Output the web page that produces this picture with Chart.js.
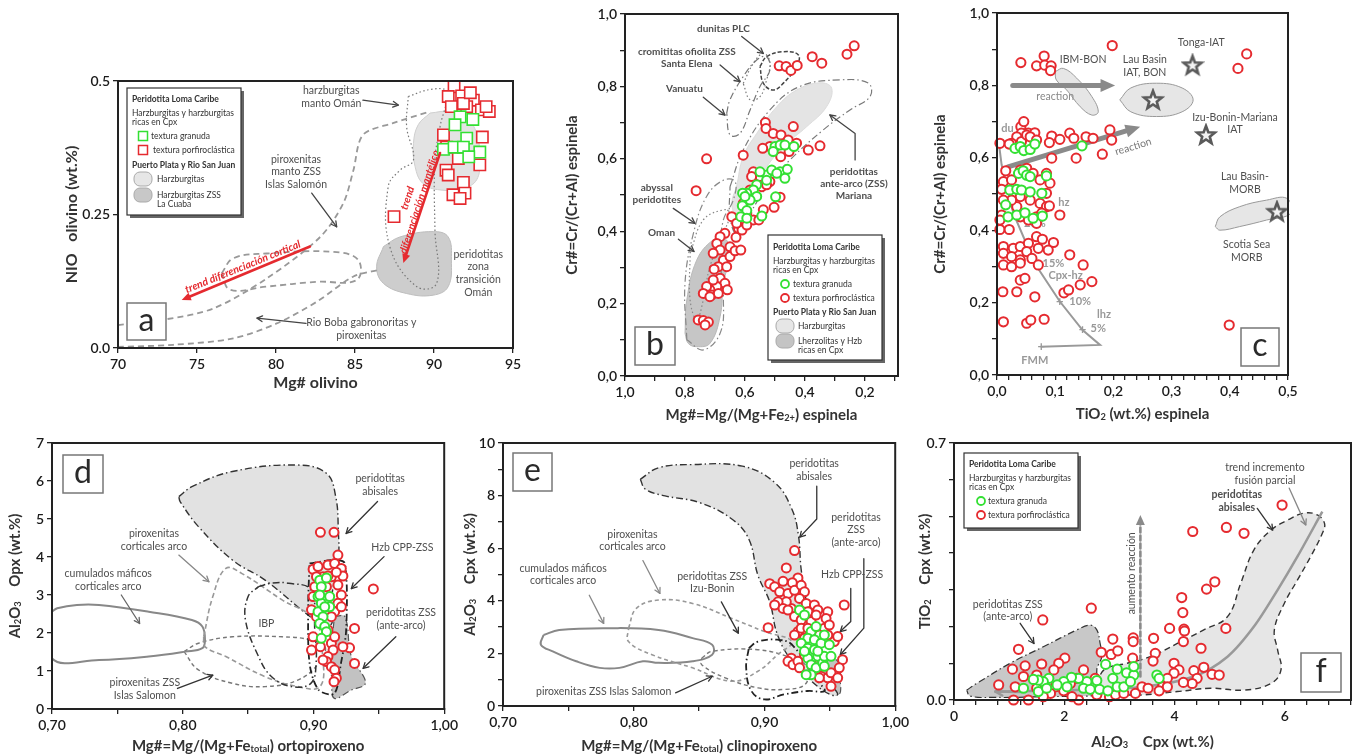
<!DOCTYPE html>
<html>
<head>
<meta charset="utf-8">
<title>Peridotita Loma Caribe</title>
<script src="https://cdn.jsdelivr.net/npm/chart.js@4.4.1/dist/chart.umd.min.js"></script>
<style>
html,body{margin:0;padding:0;background:#fff;}
body{width:1360px;height:754px;position:relative;overflow:hidden;}
.box{position:absolute;}
</style>
</head>
<body>
<script>
var RED = '#e52a2f', GREEN = '#33e033', GREY = '#4f4f4f';
var FONT = 'Lato, "Open Sans", sans-serif';
var DASHDOT = [7, 3, 1.5, 3], DASH = [6, 4], DOT = [1.5, 2.5];

// ---- a: NiO olivino vs Mg# olivino
var aRed = [[91.27,0.489],[90.9,0.471],[91.75,0.472],[92.49,0.464],[92.07,0.452],[93.0,0.446],[93.5,0.443],[91.1,0.452],[91.86,0.458],[90.6,0.399],[93.06,0.395],[90.8,0.376],[91.54,0.355],[90.76,0.333],[92.9,0.343],[91.86,0.31],[91.2,0.287],[91.96,0.29],[91.65,0.28],[90.9,0.324],[87.47,0.246],[92.3,0.478],[93.3,0.452]];
var aGreen = [[91.65,0.433],[92.46,0.428],[91.33,0.418],[92.07,0.393],[90.6,0.372],[91.27,0.376],[91.86,0.376],[92.9,0.367],[92.2,0.358]];
var aHarz = [[89.75,0.44],[91.0,0.443],[92.07,0.43],[92.7,0.402],[92.9,0.352],[92.7,0.315],[91.86,0.299],[90.38,0.296],[89.3,0.308],[88.8,0.34],[88.7,0.383],[89.0,0.418]];
var aTrans = [[86.8,0.19],[87.85,0.208],[89.96,0.218],[90.9,0.208],[91.1,0.165],[90.9,0.115],[89.96,0.099],[88.27,0.102],[86.8,0.121],[86.37,0.152]];
var aOman = [[88.37,0.471],[89.75,0.484],[90.8,0.48],[90.38,0.414],[90.06,0.352],[90.06,0.221],[90.17,0.121],[88.9,0.115],[87.2,0.19],[87.1,0.302],[87.85,0.333],[88.7,0.352],[88.27,0.414]];
var aPirUp = [[70.0,0.043],[73.08,0.054],[76.03,0.074],[79.4,0.13],[82.8,0.208],[84.26,0.271],[84.9,0.333],[85.5,0.399],[87.4,0.421],[89.75,0.443]];
var aPirLow = [[70.0,0.002],[73.5,0.006],[77.3,0.018],[80.04,0.046],[82.6,0.087],[84.9,0.134],[86.6,0.147]];
var aBoba = [[76.56,0.14],[77.3,0.168],[79.4,0.177],[83.6,0.18],[85.2,0.165],[85.1,0.127],[82.6,0.124],[79.4,0.115],[77.1,0.109]];

// ---- b: Cr# vs Mg# espinela
var bRed = [[0.486,0.857],[0.463,0.855],[0.447,0.844],[0.426,0.858],[0.376,0.882],[0.344,0.864],[0.26,0.889],[0.236,0.912],[0.728,0.6],[0.763,0.512],[0.606,0.61],[0.532,0.7],[0.53,0.684],[0.506,0.67],[0.48,0.666],[0.439,0.689],[0.456,0.652],[0.428,0.643],[0.453,0.62],[0.481,0.606],[0.517,0.634],[0.541,0.629],[0.389,0.624],[0.35,0.636],[0.572,0.564],[0.55,0.551],[0.517,0.537],[0.483,0.494],[0.503,0.466],[0.583,0.514],[0.606,0.477],[0.594,0.45],[0.572,0.431],[0.554,0.431],[0.539,0.459],[0.644,0.44],[0.622,0.408],[0.63,0.383],[0.65,0.357],[0.667,0.394],[0.683,0.385],[0.694,0.366],[0.683,0.348],[0.672,0.32],[0.65,0.33],[0.633,0.346],[0.614,0.348],[0.706,0.339],[0.689,0.302],[0.661,0.302],[0.703,0.295],[0.683,0.27],[0.667,0.256],[0.694,0.247],[0.717,0.238],[0.711,0.224],[0.689,0.228],[0.659,0.238],[0.706,0.265],[0.728,0.247],[0.739,0.228],[0.717,0.219],[0.756,0.155],[0.739,0.153],[0.722,0.149],[0.733,0.141],[0.578,0.551],[0.544,0.523],[0.528,0.528],[0.61,0.403],[0.594,0.417],[0.628,0.422]];
var bGreen = [[0.5,0.634],[0.483,0.638],[0.467,0.638],[0.437,0.634],[0.506,0.62],[0.528,0.555],[0.55,0.564],[0.511,0.569],[0.483,0.564],[0.459,0.571],[0.494,0.56],[0.467,0.546],[0.528,0.541],[0.561,0.528],[0.572,0.514],[0.594,0.505],[0.608,0.505],[0.561,0.496],[0.583,0.486],[0.609,0.47],[0.594,0.457],[0.614,0.44],[0.594,0.436],[0.544,0.442],[0.498,0.495],[0.6,0.496]];
var bHarz = [[0.628,0.523],[0.606,0.606],[0.561,0.67],[0.494,0.744],[0.428,0.79],[0.35,0.81],[0.311,0.795],[0.328,0.744],[0.394,0.689],[0.472,0.634],[0.528,0.578],[0.572,0.523],[0.606,0.468],[0.628,0.44],[0.644,0.477]];
var bLherz = [[0.8,0.118],[0.794,0.21],[0.761,0.32],[0.706,0.376],[0.667,0.38],[0.65,0.339],[0.672,0.256],[0.683,0.164],[0.717,0.09],[0.761,0.081],[0.789,0.09]];
var bMariana = [[0.65,0.523],[0.606,0.624],[0.517,0.735],[0.417,0.8],[0.283,0.818],[0.189,0.809],[0.183,0.772],[0.25,0.735],[0.339,0.68],[0.45,0.597],[0.528,0.523],[0.583,0.45],[0.628,0.394],[0.65,0.44]];
var bAbyssal = [[0.794,0.1],[0.8,0.256],[0.772,0.394],[0.728,0.496],[0.672,0.541],[0.633,0.537],[0.639,0.486],[0.672,0.431],[0.683,0.339],[0.672,0.21],[0.683,0.118],[0.739,0.072]];
var bOman = [[0.783,0.339],[0.739,0.431],[0.672,0.459],[0.65,0.45],[0.672,0.394],[0.717,0.302],[0.739,0.21],[0.761,0.155],[0.783,0.21]];
var bVanuatu = [[0.661,0.726],[0.65,0.763],[0.606,0.827],[0.561,0.873],[0.528,0.882],[0.517,0.845],[0.55,0.8],[0.583,0.735],[0.617,0.67],[0.65,0.666]];
var bCromit = [[0.606,0.808],[0.572,0.864],[0.539,0.891],[0.517,0.868],[0.528,0.818],[0.55,0.772],[0.583,0.763]];
var bDunitas = [[0.55,0.855],[0.528,0.882],[0.472,0.896],[0.422,0.887],[0.428,0.855],[0.472,0.809],[0.506,0.79],[0.539,0.809]];

// ---- c: Cr# vs TiO2 espinela
var cRed = [[0.041,0.863],[0.081,0.881],[0.068,0.854],[0.082,0.856],[0.093,0.854],[0.092,0.841],[0.198,0.91],[0.429,0.887],[0.414,0.847],[0.399,0.138],[0.041,0.686],[0.046,0.7],[0.054,0.668],[0.065,0.669],[0.042,0.668],[0.034,0.658],[0.005,0.64],[0.025,0.64],[0.042,0.645],[0.051,0.663],[0.057,0.658],[0.068,0.649],[0.094,0.66],[0.09,0.642],[0.108,0.651],[0.125,0.668],[0.132,0.654],[0.153,0.658],[0.165,0.654],[0.194,0.677],[0.197,0.649],[0.136,0.599],[0.094,0.599],[0.181,0.61],[0.021,0.638],[0.015,0.564],[0.011,0.534],[0.008,0.513],[0.025,0.539],[0.04,0.566],[0.051,0.571],[0.062,0.557],[0.074,0.539],[0.085,0.557],[0.091,0.53],[0.085,0.502],[0.074,0.474],[0.057,0.483],[0.04,0.493],[0.034,0.465],[0.025,0.483],[0.011,0.483],[0.008,0.442],[0.005,0.428],[0.005,0.402],[0.021,0.402],[0.04,0.437],[0.054,0.428],[0.068,0.437],[0.085,0.465],[0.077,0.447],[0.09,0.467],[0.108,0.442],[0.068,0.419],[0.011,0.355],[0.028,0.35],[0.04,0.355],[0.054,0.364],[0.068,0.382],[0.078,0.375],[0.097,0.366],[0.011,0.336],[0.025,0.327],[0.04,0.318],[0.051,0.341],[0.06,0.322],[0.071,0.35],[0.088,0.345],[0.011,0.304],[0.025,0.299],[0.04,0.309],[0.071,0.304],[0.125,0.332],[0.148,0.304],[0.04,0.262],[0.048,0.267],[0.034,0.23],[0.065,0.216],[0.01,0.23],[0.115,0.227],[0.123,0.235],[0.143,0.249],[0.163,0.258],[0.011,0.147],[0.051,0.143],[0.058,0.152],[0.081,0.154]];
var cGreen = [[0.031,0.626],[0.04,0.631],[0.046,0.62],[0.057,0.623],[0.065,0.638],[0.146,0.633],[0.037,0.557],[0.045,0.564],[0.051,0.552],[0.057,0.548],[0.085,0.55],[0.022,0.511],[0.034,0.513],[0.042,0.511],[0.057,0.506],[0.077,0.502],[0.015,0.47],[0.019,0.437],[0.034,0.442],[0.048,0.448],[0.062,0.433],[0.078,0.439]];
var cStars = [[0.336,0.856],[0.268,0.76],[0.359,0.663],[0.481,0.451]];
var cIBM = [[0.1,0.838],[0.114,0.847],[0.137,0.82],[0.163,0.769],[0.174,0.727],[0.163,0.718],[0.143,0.741],[0.12,0.787],[0.102,0.815]];
var cLau = [[0.211,0.76],[0.23,0.793],[0.274,0.806],[0.318,0.793],[0.337,0.76],[0.318,0.727],[0.274,0.714],[0.23,0.727]];
var cMorb = [[0.375,0.41],[0.383,0.437],[0.417,0.465],[0.463,0.483],[0.498,0.488],[0.505,0.447],[0.463,0.428],[0.417,0.41],[0.383,0.4]];
var cMelt = [[0.0036,0.635],[0.008,0.58],[0.028,0.447],[0.065,0.308],[0.108,0.203],[0.147,0.124],[0.177,0.083],[0.075,0.078]];

// ---- d: Al2O3 vs Mg# ortopiroxeno
var dRed = [[0.9053,4.65],[0.9157,4.65],[0.9187,4.05],[0.9458,3.16],[0.9314,2.12],[0.9276,1.61],[0.9225,1.64],[0.9314,1.2],[0.8985,1.55],[0.9053,1.64],[0.8997,3.675],[0.9035,3.75],[0.9111,3.79],[0.9162,3.83],[0.9213,3.7],[0.9187,3.48],[0.9225,3.5],[0.9137,3.48],[0.9073,3.48],[0.9023,3.48],[0.901,3.22],[0.8997,2.96],[0.8985,2.61],[0.9099,3.22],[0.9187,3.26],[0.9213,3.0],[0.9187,2.78],[0.9162,2.56],[0.9137,2.43],[0.9111,2.08],[0.9137,1.73],[0.9162,1.9],[0.915,1.55],[0.9111,1.38],[0.9099,1.25],[0.9137,1.114],[0.9162,1.03],[0.9175,0.81],[0.9157,0.72],[0.9073,1.29],[0.9213,2.69],[0.9023,2.43],[0.8997,1.9],[0.9111,3.5],[0.9175,3.6]];
var dGreen = [[0.9048,3.39],[0.906,3.22],[0.9035,2.96],[0.906,2.78],[0.9035,2.56],[0.9073,2.43],[0.9048,2.25],[0.9086,2.17],[0.9099,2.035],[0.906,1.86],[0.9124,2.96],[0.9124,2.69],[0.9086,2.69],[0.9048,3.0],[0.9099,3.45]];
var dAbis = [[0.797,5.59],[0.807,5.85],[0.838,6.25],[0.888,6.42],[0.91,6.2],[0.917,5.59],[0.919,4.71],[0.919,3.92],[0.914,2.96],[0.914,2.25],[0.905,2.25],[0.863,3.39],[0.838,3.92],[0.812,4.8],[0.798,5.46]];
var dAnte = [[0.916,2.43],[0.924,2.43],[0.929,1.38],[0.939,0.81],[0.939,0.63],[0.929,0.5],[0.916,0.28],[0.914,0.675],[0.914,1.64]];
var dHzb = [[0.897,3.83],[0.916,3.92],[0.924,3.83],[0.925,2.08],[0.921,1.2],[0.916,0.41],[0.904,0.5],[0.897,1.2],[0.896,2.78]];
var dIBP = [[0.858,3.22],[0.868,3.31],[0.881,3.31],[0.898,3.13],[0.901,2.08],[0.902,1.2],[0.898,0.675],[0.883,0.59],[0.868,0.85],[0.858,1.38],[0.848,2.34],[0.85,2.96]];
var dPirCort = [[0.816,1.9],[0.823,2.96],[0.833,3.7],[0.845,3.57],[0.876,2.87],[0.901,2.34],[0.907,1.38],[0.905,0.59],[0.888,0.59],[0.863,0.85],[0.833,1.38],[0.817,1.64]];
var dCum = [[0.7,2.56],[0.704,2.65],[0.719,2.74],[0.736,2.74],[0.774,2.56],[0.807,2.34],[0.815,2.17],[0.817,1.82],[0.815,1.6],[0.802,1.51],[0.774,1.38],[0.736,1.29],[0.7,1.33]];
var dSalomon = [[0.801,1.51],[0.812,1.73],[0.838,1.9],[0.876,1.9],[0.898,1.82],[0.909,1.64],[0.904,1.2],[0.888,0.76],[0.863,0.59],[0.838,0.675],[0.812,1.03]];

// ---- e: Al2O3 vs Mg# clinopiroxeno
var eRed = [[0.923,5.91],[0.9167,5.25],[0.9256,4.87],[0.9213,4.69],[0.9142,4.74],[0.904,4.65],[0.9078,4.53],[0.9116,4.34],[0.918,4.28],[0.923,4.4],[0.9281,4.59],[0.9306,4.34],[0.9268,4.09],[0.9319,3.9],[0.9382,3.84],[0.9408,3.65],[0.9332,3.58],[0.9256,3.58],[0.9205,3.71],[0.9167,3.96],[0.9104,3.96],[0.9078,3.84],[0.9142,3.71],[0.918,3.65],[0.923,3.4],[0.9281,3.27],[0.9357,3.21],[0.9395,3.46],[0.9484,3.58],[0.9471,3.33],[0.9458,2.96],[0.9496,3.08],[0.961,3.84],[0.9028,2.98],[0.9256,2.83],[0.9306,2.58],[0.9357,2.77],[0.942,2.7],[0.9484,2.7],[0.9534,2.45],[0.956,2.64],[0.9205,1.82],[0.918,1.7],[0.9218,1.57],[0.9256,1.7],[0.9268,1.45],[0.9306,1.95],[0.9357,1.7],[0.9408,1.45],[0.9433,1.13],[0.9484,1.07],[0.9509,1.26],[0.956,1.07],[0.9597,1.76],[0.9572,1.45],[0.9509,0.75],[0.942,1.07],[0.923,2.7],[0.9281,2.96],[0.9332,2.96]];
var eGreen = [[0.9268,3.65],[0.9306,3.46],[0.9357,2.83],[0.9395,3.02],[0.9332,2.58],[0.9382,2.52],[0.9433,2.39],[0.9458,2.7],[0.9281,2.39],[0.9332,2.2],[0.9382,2.14],[0.9408,1.89],[0.9332,1.82],[0.9357,1.57],[0.9395,1.45],[0.9446,1.64],[0.9458,1.89],[0.9509,1.89],[0.9496,2.33],[0.9357,1.19],[0.9319,1.19],[0.9458,1.51],[0.9408,2.08],[0.9306,2.08]];
var eAbis = [[0.805,8.62],[0.819,9.06],[0.845,9.18],[0.883,9.12],[0.908,8.49],[0.921,7.48],[0.926,6.48],[0.928,5.22],[0.932,3.96],[0.936,2.7],[0.941,1.7],[0.951,0.82],[0.956,0.44],[0.95,0.44],[0.936,0.94],[0.921,1.7],[0.91,2.7],[0.904,3.96],[0.895,4.97],[0.888,6.35],[0.875,7.11],[0.85,7.74],[0.824,7.99],[0.809,8.24]];
var eAnte = [[0.936,1.45],[0.943,1.82],[0.956,1.7],[0.958,0.94],[0.957,0.44],[0.948,0.57],[0.938,0.94]];
var eHzb = [[0.888,2.2],[0.895,2.45],[0.91,2.52],[0.921,2.33],[0.941,0.94],[0.946,0.57],[0.933,0.57],[0.915,0.44],[0.9,0.25],[0.89,0.57],[0.886,1.45]];
var ePirCort = [[0.796,2.96],[0.802,3.71],[0.819,4.03],[0.845,3.9],[0.875,3.33],[0.9,2.83],[0.921,2.45],[0.91,1.95],[0.895,1.32],[0.875,0.94],[0.845,1.45],[0.814,1.95],[0.796,2.45]];
var eSalomon = [[0.852,1.82],[0.86,2.08],[0.895,2.14],[0.921,1.82],[0.933,1.45],[0.931,0.82],[0.915,0.63],[0.895,0.69],[0.87,1.07],[0.852,1.57]];
var eCum = [[0.731,2.7],[0.743,2.89],[0.781,2.96],[0.819,2.89],[0.845,2.58],[0.86,2.33],[0.86,1.95],[0.845,1.7],[0.819,1.64],[0.807,1.7],[0.789,1.45],[0.774,1.45],[0.756,1.7],[0.738,2.08],[0.729,2.33]];

// ---- f: TiO2 vs Al2O3 Cpx
var fRed = [[5.95,0.531],[4.94,0.47],[4.33,0.459],[5.26,0.454],[4.73,0.322],[4.58,0.302],[4.13,0.279],[4.15,0.238],[2.49,0.25],[1.61,0.218],[4.17,0.193],[4.18,0.188],[3.91,0.195],[4.93,0.195],[2.88,0.166],[3.25,0.169],[3.25,0.159],[3.62,0.168],[4.16,0.159],[1.17,0.138],[2.67,0.13],[2.85,0.124],[2.97,0.134],[3.24,0.114],[3.65,0.127],[3.61,0.106],[4.48,0.141],[2.01,0.114],[1.9,0.1],[1.59,0.098],[1.29,0.093],[1.06,0.084],[3.99,0.1],[4.08,0.082],[4.53,0.089],[4.68,0.07],[4.81,0.068],[4.35,0.08],[4.41,0.059],[4.32,0.045],[4.16,0.048],[3.99,0.073],[3.87,0.059],[3.78,0.036],[2.35,0.082],[2.56,0.059],[2.23,0.059],[2.11,0.045],[1.99,0.025],[1.84,0.036],[1.75,0.018],[1.62,0.009],[1.5,0.032],[1.35,0.0],[1.08,0.0],[0.81,0.041],[1.11,0.036],[1.26,0.064],[1.5,0.068],[1.81,0.082],[2.59,0.014],[2.82,0.009],[2.93,0.014],[3.08,0.018],[3.29,0.018],[3.41,0.036],[3.52,0.032],[3.72,0.025],[3.87,0.036],[2.26,0.0],[2.14,0.009]];
var fGreen = [[2.75,0.097],[2.96,0.084],[3.13,0.074],[3.26,0.068],[3.26,0.091],[2.88,0.059],[2.59,0.053],[2.41,0.05],[2.26,0.059],[2.13,0.062],[1.99,0.05],[1.72,0.059],[1.62,0.05],[1.53,0.054],[1.44,0.056],[1.26,0.032],[1.53,0.023],[1.68,0.032],[1.87,0.041],[2.05,0.036],[2.35,0.032],[2.47,0.029],[2.64,0.029],[2.79,0.025],[2.96,0.036],[3.08,0.036],[3.68,0.068],[3.72,0.059],[3.2,0.05]];
var fAbis = [[2.59,0.036],[3.14,0.014],[4.05,0.023],[4.65,0.032],[5.26,0.027],[5.75,0.045],[5.93,0.082],[5.87,0.136],[5.81,0.191],[5.99,0.263],[6.23,0.327],[6.47,0.391],[6.68,0.454],[6.72,0.481],[6.59,0.504],[6.35,0.509],[6.05,0.49],[5.75,0.463],[5.44,0.409],[5.2,0.318],[4.96,0.227],[4.53,0.191],[4.05,0.154],[3.56,0.118],[3.14,0.1],[2.72,0.082]];
var fAnte = [[0.23,0.027],[0.41,0.045],[1.02,0.1],[1.62,0.145],[2.23,0.191],[2.47,0.204],[2.59,0.191],[2.65,0.154],[2.68,0.118],[2.59,0.082],[2.65,0.045],[2.84,0.027],[2.72,0.014],[1.62,0.009],[0.72,0.007],[0.29,0.011]];
var fTrend = [[0.745,0.023],[2.23,0.027],[3.44,0.036],[4.35,0.064],[4.96,0.118],[5.44,0.2],[5.87,0.3],[6.23,0.391],[6.68,0.513]];

// tick labels
var aXLab = [[70,'70'],[75,'75'],[80,'80'],[85,'85'],[90,'90'],[95,'95']];
var aYLab = [[0,'0.0'],[0.25,'0.25'],[0.5,'0.5']];
var crLab = [[0,'0,0'],[0.2,'0,2'],[0.4,'0,4'],[0.6,'0,6'],[0.8,'0,8'],[1,'1,0']];
var bXLab = [[1,'1,0'],[0.8,'0,8'],[0.6,'0,6'],[0.4,'0,4'],[0.2,'0,2']];
var cXLab = [[0,'0,0'],[0.1,'0,1'],[0.2,'0,2'],[0.3,'0,3'],[0.4,'0,4'],[0.5,'0,5']];
var mgLab = [[0.7,'0,70'],[0.8,'0,80'],[0.9,'0,90'],[1,'1,00']];
var dYLab = [[0,'0'],[1,'1'],[2,'2'],[3,'3'],[4,'4'],[5,'5'],[6,'6'],[7,'7']];
var eYLab = [[0,'0'],[2,'2'],[4,'4'],[6,'6'],[8,'8'],[10,'10']];
var fXLab = [[0,'0'],[2,'2'],[4,'4'],[6,'6']];
var fYLab = [[0,'0.0'],[0.7,'0.7']];

function range(a, b, s) {
  var arr = [];
  for (var i = 0; a + i * s <= b + 1e-9; i++) arr.push(Math.round((a + i * s) * 1e6) / 1e6);
  return arr;
}
function P(arr) { return arr.map(function (p) { return {x: p[0], y: p[1]}; }); }

function shape(arr, st) {
  var pts = arr.slice();
  if (!st.open) pts.push(arr[0]);
  return {data: P(pts), showLine: true, fill: st.fill ? 'shape' : false,
    backgroundColor: st.fill || 'rgba(0,0,0,0)', borderColor: st.c || 'rgba(0,0,0,0)',
    borderWidth: st.w || 1.3, borderDash: st.d || [], pointRadius: 0, pointHoverRadius: 0,
    tension: st.t == null ? 0.4 : st.t, order: st.fill ? 12 : 10, clip: 2};
}
function dots(arr, col, style, r, ord) {
  return {data: P(arr), showLine: false, pointStyle: style || 'circle', pointRadius: r || 4.5,
    pointHoverRadius: r || 4.5, pointBorderColor: col, pointBackgroundColor: '#fff',
    pointBorderWidth: style == 'rect' ? 1.6 : 2, order: ord, clip: false};
}
function starImg() {
  var c = document.createElement('canvas');
  c.width = c.height = 24;
  var g = c.getContext('2d');
  g.beginPath();
  for (var i = 0; i < 10; i++) {
    var r = i % 2 ? 4 : 9.5, a = -Math.PI / 2 + i * Math.PI / 5;
    g.lineTo(12 + r * Math.cos(a), 12.5 + r * Math.sin(a));
  }
  g.closePath();
  g.fillStyle = '#f2f2f2'; g.fill();
  g.lineWidth = 2.6; g.strokeStyle = '#5a5a5a'; g.stroke();
  return c;
}

function axis(o) {
  return {
    type: 'linear', min: o.min, max: o.max, reverse: !!o.rev,
    afterBuildTicks: function (s) { s.ticks = o.ticks.map(function (v) { return {value: v}; }); },
    afterFit: function (s) { if (o.w) s.width = o.w; if (o.h) s.height = o.h; },
    ticks: {autoSkip: false, maxRotation: 0, padding: 3, color: '#1a1a1a',
      font: {family: FONT, size: 14, weight: '600'},
      callback: function (v) {
        for (var i = 0; i < o.labs.length; i++) if (Math.abs(o.labs[i][0] - v) < 1e-6) return o.labs[i][1];
        return '';
      }},
    grid: {drawOnChartArea: false, drawTicks: true, tickLength: 5, color: '#222', lineWidth: 1.3},
    border: {display: true, color: '#222', width: 2},
    title: {display: false}
  };
}

// axis title with _{sub} markup
function drawRich(ctx, txt, x, y, size, rot) {
  var parts = txt.split(/(_\{[^}]*\})/).filter(function (s) { return s.length; });
  var segs = parts.map(function (s) {
    var sub = s.charAt(0) == '_' && s.charAt(1) == '{';
    return {t: sub ? s.slice(2, -1) : s, sub: sub};
  });
  var total = 0;
  segs.forEach(function (g) {
    ctx.font = 'bold ' + (g.sub ? size * 0.62 : size) + 'px ' + FONT;
    g.w = ctx.measureText(g.t).width; total += g.w;
  });
  ctx.save();
  ctx.translate(x, y);
  if (rot) ctx.rotate(rot);
  ctx.fillStyle = '#333'; ctx.textAlign = 'left'; ctx.textBaseline = 'middle';
  var cx = -total / 2;
  segs.forEach(function (g) {
    ctx.font = 'bold ' + (g.sub ? size * 0.62 : size) + 'px ' + FONT;
    ctx.fillText(g.t, cx, g.sub ? size * 0.22 : 0);
    cx += g.w;
  });
  ctx.restore();
}

function drawText(ctx, x, y, t) {
  var s = t.s || 10.5;
  ctx.save();
  ctx.translate(x, y);
  if (t.r) ctx.rotate(t.r * Math.PI / 180);
  ctx.font = (t.i ? 'italic ' : '') + (t.b ? 'bold ' : '') + s + 'px ' + FONT;
  ctx.fillStyle = t.c || GREY;
  ctx.textAlign = 'center'; ctx.textBaseline = 'middle';
  var lines = t.t.split('\n'), lh = s * 1.2;
  lines.forEach(function (l, i) { ctx.fillText(l, 0, (i - (lines.length - 1) / 2) * lh); });
  ctx.restore();
}
function drawArrow(ctx, q, a) {
  var n = q.length, h = a.h || 6, col = a.c || '#444';
  var ang = Math.atan2(q[n - 1][1] - q[n - 2][1], q[n - 1][0] - q[n - 2][0]);
  ctx.save();
  ctx.strokeStyle = col; ctx.fillStyle = col; ctx.lineWidth = a.w || 1.3;
  ctx.lineCap = 'round'; ctx.lineJoin = 'round';
  if (!a.o) {
    ctx.setLineDash(a.d || []);
    ctx.beginPath();
    ctx.moveTo(q[0][0], q[0][1]);
    for (var i = 1; i < n - 1; i++) ctx.lineTo(q[i][0], q[i][1]);
    var back = a.f ? h * 0.7 : 0;
    ctx.lineTo(q[n - 1][0] - Math.cos(ang) * back, q[n - 1][1] - Math.sin(ang) * back);
    ctx.stroke();
    ctx.setLineDash([]);
  }
  var tx = q[n - 1][0], ty = q[n - 1][1], sp = a.f ? 0.42 : 0.5;
  ctx.beginPath();
  ctx.moveTo(tx - h * Math.cos(ang - sp), ty - h * Math.sin(ang - sp));
  ctx.lineTo(tx, ty);
  ctx.lineTo(tx - h * Math.cos(ang + sp), ty - h * Math.sin(ang + sp));
  if (a.f) { ctx.closePath(); ctx.fill(); } else ctx.stroke();
  ctx.restore();
}
function drawLegend(ctx, ca, L) {
  var x0 = ca.left + L.x, y0 = ca.top + L.y;
  ctx.fillStyle = '#666'; ctx.fillRect(x0 + 3, y0 + 3, L.w, L.h);
  ctx.fillStyle = '#fff'; ctx.fillRect(x0, y0, L.w, L.h);
  ctx.strokeStyle = '#333'; ctx.lineWidth = 1.2; ctx.strokeRect(x0, y0, L.w, L.h);
  L.rows.forEach(function (r) {
    var y = y0 + r.y;
    if (r.sym == 'sq') { ctx.strokeStyle = r.c; ctx.lineWidth = 1.5; ctx.strokeRect(x0 + r.sx - 4.5, y - 4.5, 9, 9); }
    if (r.sym == 'ci') { ctx.beginPath(); ctx.arc(x0 + r.sx, y, 4, 0, 2 * Math.PI); ctx.strokeStyle = r.c; ctx.lineWidth = 1.8; ctx.stroke(); }
    if (r.sym == 'blob') {
      ctx.beginPath();
      ctx.roundRect(x0 + r.sx - 9, y - 7, 18, 14, 6);
      ctx.fillStyle = r.c; ctx.fill(); ctx.strokeStyle = '#aaa'; ctx.lineWidth = 1; ctx.stroke();
    }
    ctx.font = (r.b ? 'bold ' : '') + '8.5px ' + FONT;
    ctx.fillStyle = '#333'; ctx.textAlign = 'left'; ctx.textBaseline = 'middle';
    r.t.split('\n').forEach(function (l, i) { ctx.fillText(l, x0 + (r.tx || 5), y + i * 9.5); });
  });
}
function drawLetter(ctx, ca, k) {
  var x0 = ca.left + k.x, y0 = ca.top + k.y;
  ctx.fillStyle = '#fff'; ctx.fillRect(x0, y0, k.w, k.h);
  ctx.strokeStyle = '#777'; ctx.lineWidth = 1.5; ctx.strokeRect(x0, y0, k.w, k.h);
  ctx.fillStyle = '#2a2a2a'; ctx.font = '32px ' + FONT;
  ctx.textAlign = 'center'; ctx.textBaseline = 'middle';
  ctx.fillText(k.t, x0 + k.w / 2, y0 + k.h / 2 - 1);
}

function notesPlugin(n, box, xa, ya) {
  var done = false;
  function px(c, p) { return [c.scales.x.getPixelForValue(p[0]), c.scales.y.getPixelForValue(p[1])]; }
  return {
    id: 'notes',
    beforeDraw: function () { done = false; },
    beforeDatasetDraw: function (c, args) {
      if (done || args.meta.order > 2) return;
      done = true;
      var ctx = c.ctx;
      (n.arrows || []).forEach(function (a) { drawArrow(ctx, a.p.map(function (p) { return px(c, p); }), a); });
      (n.texts || []).forEach(function (t) { var q = px(c, t.p); drawText(ctx, q[0], q[1], t); });
    },
    afterDraw: function (c) {
      var ctx = c.ctx, ca = c.chartArea;
      ctx.save();
      (n.top || []).forEach(function (a) { drawArrow(ctx, a.p.map(function (p) { return px(c, p); }), a); });
      ctx.strokeStyle = '#222'; ctx.lineWidth = 2;
      ctx.strokeRect(ca.left, ca.top, ca.right - ca.left, ca.bottom - ca.top);
      if (n.legend) drawLegend(ctx, ca, n.legend);
      if (n.letter) drawLetter(ctx, ca, n.letter);
      drawRich(ctx, xa.title, (ca.left + ca.right) / 2, ca.bottom + box.xh - 13, xa.ts || 15, 0);
      drawRich(ctx, ya.title, ca.left - box.yw + 13, (ca.top + ca.bottom) / 2, ya.ts || 15, -Math.PI / 2);
      ctx.restore();
    }
  };
}

function makePanel(box, xa, ya, sets, notes) {
  var pr = Math.min(14, 1360 - box.r);
  var L = box.l - box.yw, T = box.t - 12;
  var div = document.createElement('div');
  div.className = 'box';
  div.style.left = L + 'px'; div.style.top = T + 'px';
  div.style.width = (box.r + pr - L) + 'px';
  div.style.height = (box.b + box.xh - T) + 'px';
  var cv = document.createElement('canvas');
  div.appendChild(cv);
  document.body.appendChild(div);
  xa.h = box.xh; ya.w = box.yw;
  return new Chart(cv, {
    type: 'line',
    data: {datasets: sets},
    options: {
      responsive: true, maintainAspectRatio: false, animation: false, events: [],
      layout: {padding: {top: 12, right: pr, left: 0, bottom: 0}},
      plugins: {legend: {display: false}, tooltip: {enabled: false}},
      scales: {x: axis(xa), y: axis(ya)}
    },
    plugins: [notesPlugin(notes, box, xa, ya)]
  });
}

var LOMA = [
  {y: 11, t: 'Peridotita Loma Caribe', b: true},
  {y: 25, t: 'Harzburgitas y harzburgitas\nricas en Cpx'}
];

// a
makePanel({l: 118, t: 81, r: 513, b: 348, yw: 59, xh: 48},
  {min: 70, max: 95, ticks: range(70, 95, 5), labs: aXLab, title: 'Mg# olivino', ts: 16},
  {min: 0, max: 0.5, ticks: [0, 0.25, 0.5], labs: aYLab, title: 'NIO   olivino (wt.%)', ts: 16},
  [dots(aRed, RED, 'rect', 8, 1), dots(aGreen, GREEN, 'rect', 8, 0),
   shape(aHarz, {fill: '#e3e3e3', c: '#cfcfcf', w: 1}),
   shape(aTrans, {fill: '#cdcdcd', c: '#bdbdbd', w: 1}),
   shape(aOman, {c: '#777', d: DOT, w: 1.2}),
   shape(aPirUp, {c: '#999', d: DASH, w: 1.8, open: true, t: 0.3}),
   shape(aPirLow, {c: '#999', d: DASH, w: 1.8, open: true, t: 0.3}),
   shape(aBoba, {c: '#999', d: DASH, w: 1.8})],
  {texts: [
    {p: [83.5, 0.47], t: 'harzburgitas\nmanto Omán'},
    {p: [81.27, 0.33], t: 'piroxenitas\nmanto ZSS\nIslas Salomón'},
    {p: [92.8, 0.14], t: 'peridotitas\nzona\ntransición\nOmán'},
    {p: [85.4, 0.035], t: 'Rio Boba gabronoritas y\npiroxenitas'},
    {p: [77.9, 0.152], t: 'trend diferenciación cortical', r: -22, c: RED, b: true, i: true, s: 10.5},
    {p: [88.7, 0.277], t: 'trend\ndiferenciación mantélico', r: -72, c: RED, b: true, i: true, s: 10.5}],
   arrows: [
    {p: [[85.5, 0.464], [87.74, 0.455]]},
    {p: [[82.26, 0.29], [83.84, 0.227]]},
    {p: [[81.9, 0.046], [78.8, 0.056]]}],
   top: [
    {p: [[82.15, 0.19], [74.03, 0.09]], c: RED, w: 2.6, h: 10, f: true},
    {p: [[90.38, 0.365], [88.06, 0.159]], c: RED, w: 2.6, h: 10, f: true}],
   legend: {x: 9, y: 7, w: 114, h: 127, rows: LOMA.concat([
    {y: 48, sym: 'sq', c: GREEN, sx: 16, tx: 24, t: 'textura granuda'},
    {y: 62, sym: 'sq', c: RED, sx: 16, tx: 26, t: 'textura porfiroclástica'},
    {y: 77, t: 'Puerto Plata y Rio San Juan', b: true},
    {y: 91, sym: 'blob', c: '#e6e6e6', sx: 16, tx: 30, t: 'Harzburgitas'},
    {y: 107, sym: 'blob', c: '#c8c8c8', sx: 16, tx: 30, t: 'Harzburgitas ZSS\nLa Cuaba'}])},
   letter: {x: 9, y: 222, w: 39, h: 37, t: 'a'}});

// b
makePanel({l: 625, t: 14, r: 898, b: 376, yw: 66, xh: 52},
  {min: 0.09, max: 1, rev: true, ticks: range(0.1, 1, 0.1), labs: bXLab, title: 'Mg#=Mg/(Mg+Fe_{2+}) espinela'},
  {min: 0, max: 1, ticks: range(0, 1, 0.1), labs: crLab, title: 'Cr#=Cr/(Cr+Al) espinela'},
  [dots(bRed, RED, 'circle', 4.5, 1), dots(bGreen, GREEN, 'circle', 4.5, 0),
   shape(bHarz, {fill: '#e4e4e4', c: '#dcdcdc', w: 1}),
   shape(bLherz, {fill: '#c6c6c6', c: '#b8b8b8', w: 1}),
   shape(bMariana, {c: '#7a7a7a', d: DASHDOT, w: 1.2}),
   shape(bAbyssal, {c: '#888', d: DASHDOT, w: 1.2}),
   shape(bOman, {c: '#888', d: DOT, w: 1.2}),
   shape(bVanuatu, {c: '#777', d: DASHDOT, w: 1.2}),
   shape(bCromit, {c: '#777', d: DOT, w: 1.2}),
   shape(bDunitas, {c: '#444', d: [4, 2], w: 1.5})],
  {texts: [
    {p: [0.672, 0.96], t: 'dunitas PLC', b: true, s: 10},
    {p: [0.794, 0.88], t: 'cromititas ofiolita ZSS\nSanta Elena', b: true, s: 10},
    {p: [0.802, 0.793], t: 'Vanuatu', b: true, s: 10},
    {p: [0.894, 0.503], t: 'abyssal\nperidotites', b: true, s: 10},
    {p: [0.878, 0.397], t: 'Oman', b: true, s: 10},
    {p: [0.237, 0.532], t: 'peridotitas\nante-arco (ZSS)\nMariana', b: true, s: 10}],
   arrows: [
    {p: [[0.611, 0.938], [0.539, 0.891]]},
    {p: [[0.683, 0.859], [0.617, 0.813]]},
    {p: [[0.739, 0.77], [0.667, 0.721]]},
    {p: [[0.839, 0.463], [0.767, 0.422]]},
    {p: [[0.822, 0.378], [0.77, 0.344]]},
    {p: [[0.233, 0.597], [0.233, 0.67], [0.317, 0.721]]}],
   legend: {x: 143, y: 221, w: 114, h: 125, rows: [
    {y: 12, t: 'Peridotita Loma Caribe', b: true},
    {y: 26, t: 'Harzburgitas y harzburgitas\nricas en Cpx'},
    {y: 49, sym: 'ci', c: GREEN, sx: 17, tx: 25, t: 'textura granuda'},
    {y: 63, sym: 'ci', c: RED, sx: 17, tx: 25, t: 'textura porfiroclástica'},
    {y: 77, t: 'Puerto Plata y Rio San Juan', b: true},
    {y: 91, sym: 'blob', c: '#e6e6e6', sx: 17, tx: 30, t: 'Harzburgitas'},
    {y: 106, sym: 'blob', c: '#c4c4c4', sx: 17, tx: 30, t: 'Lherzolitas y Hzb\nricas en Cpx'}]},
   letter: {x: 10, y: 313, w: 40, h: 38, t: 'b'}});

// c
makePanel({l: 997, t: 13, r: 1288, b: 375, yw: 70, xh: 52},
  {min: 0, max: 0.5, ticks: range(0, 0.5, 0.02), labs: cXLab, title: 'TiO_{2} (wt.%) espinela'},
  {min: 0, max: 1, ticks: range(0, 1, 0.1), labs: crLab, title: 'Cr#=Cr/(Cr+Al) espinela'},
  [dots(cRed, RED, 'circle', 4.6, 1), dots(cGreen, GREEN, 'circle', 4.6, 0),
   {data: P(cStars), showLine: false, pointStyle: starImg(), pointRadius: 10, order: 2, clip: false},
   shape(cIBM, {fill: '#e6e6e6', c: '#999', w: 1}),
   shape(cLau, {fill: '#e6e6e6', c: '#999', w: 1}),
   shape(cMorb, {fill: '#e6e6e6', c: '#999', w: 1}),
   shape(cMelt, {c: '#999', w: 2, open: true, t: 0})],
  {texts: [
    {p: [0.148, 0.87], t: 'IBM-BON'},
    {p: [0.254, 0.854], t: 'Lau Basin\nIAT, BON'},
    {p: [0.351, 0.918], t: 'Tonga-IAT'},
    {p: [0.409, 0.695], t: 'Izu-Bonin-Mariana\nIAT'},
    {p: [0.426, 0.53], t: 'Lau Basin-\nMORB'},
    {p: [0.429, 0.343], t: 'Scotia Sea\nMORB'},
    {p: [0.1, 0.769], t: 'reaction', c: '#888'},
    {p: [0.234, 0.631], t: 'reaction', c: '#777', r: -17},
    {p: [0.018, 0.681], t: 'du', c: '#999', b: true, s: 11},
    {p: [0.115, 0.477], t: 'hz', c: '#999', b: true, s: 11},
    {p: [0.065, 0.419], t: '20%', c: '#999', b: true, s: 11},
    {p: [0.097, 0.308], t: '15%', c: '#999', b: true, s: 11},
    {p: [0.118, 0.274], t: 'Cpx-hz', c: '#999', b: true, s: 11},
    {p: [0.143, 0.203], t: '10%', c: '#999', b: true, s: 11},
    {p: [0.184, 0.166], t: 'lhz', c: '#999', b: true, s: 11},
    {p: [0.174, 0.129], t: '5%', c: '#999', b: true, s: 11},
    {p: [0.065, 0.041], t: 'FMM', c: '#999', b: true, s: 11},
    {p: [0.108, 0.203], t: '+', c: '#999', b: true, s: 13},
    {p: [0.147, 0.124], t: '+', c: '#999', b: true, s: 13},
    {p: [0.076, 0.078], t: '+', c: '#999', b: true, s: 13}],
   arrows: [
    {p: [[0.027, 0.8], [0.203, 0.8]], c: '#8a8a8a', w: 5, h: 16, f: true},
    {p: [[0.019, 0.575], [0.246, 0.686]], c: '#8a8a8a', w: 5, h: 16, f: true}],
   letter: {x: 244, y: 315, w: 38, h: 38, t: 'c'}});

// d
makePanel({l: 52, t: 443, r: 447, b: 709, yw: 50, xh: 50},
  {min: 0.7, max: 1, ticks: range(0.7, 1, 0.05), labs: mgLab, title: 'Mg#=Mg/(Mg+Fe_{total}) ortopiroxeno'},
  {min: 0, max: 7, ticks: range(0, 7, 1), labs: dYLab, title: 'Al_{2}O_{3}    Opx (wt.%)'},
  [dots(dRed, RED, 'circle', 4.5, 1), dots(dGreen, GREEN, 'circle', 4.5, 0),
   shape(dAbis, {fill: '#e2e2e2', c: '#333', d: DASHDOT, w: 1.4}),
   shape(dAnte, {fill: '#c2c2c2', c: '#555', d: DASHDOT, w: 1.2}),
   shape(dHzb, {c: '#222', d: DASHDOT, w: 1.8, t: 0.3}),
   shape(dIBP, {c: '#333', d: DASHDOT, w: 1.5}),
   shape(dPirCort, {c: '#999', d: [5, 3], w: 1.6}),
   shape(dCum, {c: '#888', w: 2}),
   shape(dSalomon, {c: '#777', d: [4, 3], w: 1.4})],
  {texts: [
    {p: [0.951, 5.89], t: 'peridotitas\nabisales'},
    {p: [0.968, 4.25], t: 'Hzb CPP-ZSS'},
    {p: [0.967, 2.36], t: 'peridotitas ZSS\n(ante-arco)'},
    {p: [0.778, 4.45], t: 'piroxenitas\ncorticales arco'},
    {p: [0.743, 3.39], t: 'cumulados máficos\ncorticales arco'},
    {p: [0.864, 2.24], t: 'IBP'},
    {p: [0.771, 0.53], t: 'piroxenitas ZSS\nIslas Salomon'}],
   arrows: [
    {p: [[0.949, 5.46], [0.925, 4.62]], c: '#333'},
    {p: [[0.954, 4.01], [0.929, 3.17]], c: '#333'},
    {p: [[0.963, 1.9], [0.938, 1.07]], c: '#333'},
    {p: [[0.797, 4.05], [0.82, 3.35]], c: '#888'},
    {p: [[0.753, 3.0], [0.767, 2.25]], c: '#666'},
    {p: [[0.796, 0.54], [0.823, 0.89]], c: '#333'}],
   letter: {x: 11, y: 12, w: 40, h: 38, t: 'd'}});

// e
makePanel({l: 503, t: 443, r: 898, b: 706, yw: 46, xh: 53},
  {min: 0.7, max: 1, ticks: range(0.7, 1, 0.05), labs: mgLab, title: 'Mg#=Mg/(Mg+Fe_{total}) clinopiroxeno'},
  {min: 0, max: 10, ticks: range(0, 10, 1), labs: eYLab, title: 'Al_{2}O_{3}    Cpx (wt.%)'},
  [dots(eRed, RED, 'circle', 4.5, 1), dots(eGreen, GREEN, 'circle', 4.5, 0),
   shape(eAbis, {fill: '#e2e2e2', c: '#333', d: DASHDOT, w: 1.4}),
   shape(eAnte, {fill: '#c2c2c2', c: '#555', d: DASHDOT, w: 1.2}),
   shape(eHzb, {c: '#222', d: DASHDOT, w: 1.8}),
   shape(ePirCort, {c: '#999', d: [4, 3], w: 1.6}),
   shape(eSalomon, {c: '#777', d: [4, 3], w: 1.4}),
   shape(eCum, {c: '#888', w: 2})],
  {texts: [
    {p: [0.938, 8.97], t: 'peridotitas\nabisales'},
    {p: [0.97, 6.7], t: 'peridotitas\nZSS\n(ante-arco)'},
    {p: [0.967, 4.99], t: 'Hzb CPP-ZSS'},
    {p: [0.799, 6.29], t: 'piroxenitas\ncorticales arco'},
    {p: [0.746, 4.99], t: 'cumulados máficos\ncorticales arco'},
    {p: [0.86, 4.69], t: 'peridotitas ZSS\nIzu-Bonin'},
    {p: [0.777, 0.53], t: 'piroxenitas ZSS Islas Salomon'}],
   arrows: [
    {p: [[0.94, 8.36], [0.94, 7.11], [0.927, 6.42]], c: '#333'},
    {p: [[0.976, 5.6], [0.976, 2.96], [0.958, 1.95]], c: '#333'},
    {p: [[0.966, 4.47], [0.966, 3.21], [0.958, 2.83]], c: '#333'},
    {p: [[0.807, 5.53], [0.82, 4.28]], c: '#888'},
    {p: [[0.766, 4.21], [0.777, 3.14]], c: '#888'},
    {p: [[0.867, 3.96], [0.88, 2.77]], c: '#333'},
    {p: [[0.832, 0.5], [0.86, 1.13]], c: '#333'}],
   letter: {x: 10, y: 10, w: 39, h: 38, t: 'e'}});

// f
makePanel({l: 954, t: 443, r: 1351, b: 700, yw: 42, xh: 55},
  {min: 0, max: 7.2, ticks: range(0, 7.2, 0.4), labs: fXLab, title: 'Al_{2}O_{3}    Cpx (wt.%)'},
  {min: 0, max: 0.7, ticks: range(0, 0.7, 0.1), labs: fYLab, title: 'TiO_{2}    Cpx (wt.%)'},
  [dots(fRed, RED, 'circle', 4.6, 1), dots(fGreen, GREEN, 'circle', 4.6, 0),
   shape(fAbis, {fill: '#e6e6e6', c: '#333', d: DASH, w: 1.4}),
   shape(fAnte, {fill: '#c8c8c8', c: '#333', d: DASHDOT, w: 1.2}),
   shape(fTrend, {c: '#999', w: 2.5, open: true, t: 0.3})],
  {texts: [
    {p: [5.64, 0.616], t: 'trend incremento\nfusión parcial'},
    {p: [5.13, 0.542], t: 'peridotitas\nabisales', b: true},
    {p: [0.976, 0.243], t: 'peridotitas ZSS\n(ante-arco)'},
    {p: [3.23, 0.345], t: 'aumento reacción', r: -90}],
   arrows: [
    {p: [[6.08, 0.577], [6.38, 0.477]], c: '#888'},
    {p: [[5.5, 0.522], [5.78, 0.463]], c: '#333'},
    {p: [[1.2, 0.209], [1.45, 0.154]], c: '#333'},
    {p: [[3.38, 0.064], [3.38, 0.504]], c: '#8a8a8a', w: 2.6, d: [5, 3], h: 11, f: true},
    {p: [[1.2, 0.022], [0.75, 0.023]], c: '#999', w: 2.5, h: 8}],
   legend: {x: 10, y: 10, w: 114, h: 75, rows: LOMA.concat([
    {y: 48, sym: 'ci', c: GREEN, sx: 17, tx: 24, t: 'textura granuda'},
    {y: 62, sym: 'ci', c: RED, sx: 17, tx: 24, t: 'textura porfiroclástica'}])},
   letter: {x: 347, y: 210, w: 40, h: 39, t: 'f'}});
</script>
</body>
</html>
